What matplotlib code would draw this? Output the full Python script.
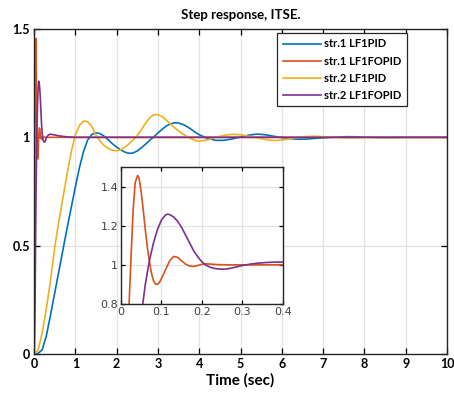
import matplotlib
matplotlib.use("Agg")
import matplotlib.pyplot as plt

# str.1 LF1PID (blue) and str.2 LF1PID (yellow), slow responses
t_pid = [0, 0.1, 0.2, 0.3, 0.4, 0.5, 0.6, 0.7, 0.8, 0.9, 1.0, 1.1, 1.2, 1.3, 1.4,
         1.5, 1.6, 1.7, 1.8, 1.9, 2.0, 2.1, 2.2, 2.3, 2.4, 2.5, 2.6, 2.7, 2.8, 2.9,
         3.0, 3.1, 3.2, 3.3, 3.4, 3.5, 3.6, 3.7, 3.8, 3.9, 4.0, 4.2, 4.4, 4.6, 4.8,
         5.0, 5.2, 5.4, 5.6, 5.8, 6.0, 6.2, 6.4, 6.6, 6.8, 7.0, 7.3, 7.6, 7.9, 8.2,
         8.6, 9.0, 10.0]
y_s1_pid = [0, 0.003, 0.02, 0.085, 0.18, 0.28, 0.38, 0.48, 0.58, 0.675, 0.77, 0.86,
            0.935, 0.988, 1.013, 1.021, 1.017, 1.005, 0.988, 0.97, 0.955, 0.942,
            0.932, 0.926, 0.928, 0.937, 0.952, 0.968, 0.986, 1.002, 1.02, 1.037,
            1.052, 1.062, 1.067, 1.066, 1.06, 1.05, 1.038, 1.024, 1.012, 0.995,
            0.986, 0.986, 0.993, 1.001, 1.01, 1.015, 1.012, 1.005, 0.999, 0.994,
            0.991, 0.992, 0.995, 0.998, 1.001, 1.003, 1.002, 1.0, 0.999, 1.0, 1.0]
y_s2_pid = [0, 0.018, 0.1, 0.21, 0.34, 0.49, 0.61, 0.72, 0.83, 0.93, 1.012, 1.055,
            1.075, 1.072, 1.05, 1.01, 0.982, 0.962, 0.948, 0.94, 0.938, 0.942,
            0.954, 0.97, 0.988, 1.008, 1.035, 1.065, 1.09, 1.104, 1.105, 1.096,
            1.08, 1.062, 1.045, 1.03, 1.016, 1.004, 0.994, 0.986, 0.982, 0.988,
            1.0, 1.009, 1.014, 1.012, 1.005, 0.998, 0.99, 0.985, 0.987, 0.994,
            1.0, 1.004, 1.005, 1.003, 1.0, 0.998, 0.999, 1.0, 1.0, 1.0, 1.0]

# str.1 LF1FOPID (orange)
t_s1_fo = [0, 0.005, 0.01, 0.015, 0.02, 0.025, 0.03, 0.035, 0.041, 0.045, 0.05,
           0.055, 0.06, 0.065, 0.07, 0.075, 0.08, 0.085, 0.09, 0.095, 0.1, 0.11,
           0.12, 0.13, 0.14, 0.15, 0.16, 0.17, 0.18, 0.19, 0.2, 0.21, 0.22, 0.24,
           0.27, 0.3, 0.35, 0.4, 1.0, 10.0]
y_s1_fo = [0, 0.08, 0.3, 0.55, 0.8, 1.05, 1.28, 1.42, 1.457, 1.44, 1.37, 1.28,
           1.18, 1.09, 1.02, 0.96, 0.92, 0.902, 0.9, 0.91, 0.93, 0.975, 1.02,
           1.043, 1.038, 1.02, 1.003, 0.994, 0.992, 0.997, 1.003, 1.005, 1.004,
           1.001, 1.0, 1.0, 1.0, 1.0, 1.0, 1.0]

# str.2 LF1FOPID (purple)
t_s2_fo = [0, 0.01, 0.02, 0.03, 0.04, 0.05, 0.055, 0.06, 0.065, 0.07, 0.08, 0.09,
           0.1, 0.11, 0.115, 0.12, 0.13, 0.14, 0.15, 0.16, 0.17, 0.18, 0.19, 0.2,
           0.21, 0.22, 0.23, 0.24, 0.25, 0.26, 0.27, 0.28, 0.29, 0.3, 0.32, 0.34,
           0.36, 0.38, 0.4, 0.45, 0.5, 0.6, 0.8, 1.0, 10.0]
y_s2_fo = [0, 0.04, 0.15, 0.33, 0.55, 0.74, 0.82, 0.9, 0.96, 1.02, 1.11, 1.18,
           1.23, 1.255, 1.259, 1.257, 1.245, 1.222, 1.19, 1.15, 1.11, 1.07, 1.04,
           1.015, 0.998, 0.988, 0.982, 0.979, 0.978, 0.979, 0.982, 0.987, 0.992,
           0.997, 1.004, 1.009, 1.012, 1.014, 1.014, 1.013, 1.011, 1.007, 1.002,
           1.0, 1.0]

labels = ["str.1 LF1PID", "str.1 LF1FOPID", "str.2 LF1PID", "str.2 LF1FOPID"]
colors = ["#0072BD", "#D95319", "#EDB120", "#7E2F8E"]
series = [(t_pid, y_s1_pid), (t_s1_fo, y_s1_fo), (t_pid, y_s2_pid), (t_s2_fo, y_s2_fo)]

fig = plt.figure(figsize=(4.54, 3.97), dpi=100)
ax = fig.add_axes([0.0749, 0.1083, 0.9097, 0.8187])
for (t, y), c, lab in zip(series, colors, labels):
    ax.plot(t, y, color=c, lw=1.2, label=lab)

ax.set_xlim(0, 10)
ax.set_ylim(0, 1.5)
ax.set_xticks(range(0, 11))
ax.set_yticks([0, 0.5, 1, 1.5])
ax.set_yticklabels(["0", "0.5", "1", "1.5"])
ax.grid(True, color="#e3e3e3", lw=0.9)
ax.set_axisbelow(True)
ax.tick_params(direction="in", top=True, right=True, length=4, width=0.9, pad=3)
for lbl in ax.get_xticklabels() + ax.get_yticklabels():
    lbl.set_fontfamily("Lato")
    lbl.set_fontweight("bold")
    lbl.set_fontsize(9)
for s in ax.spines.values():
    s.set_linewidth(1.0)
    s.set_color("#262626")
ax.set_title("Step response, ITSE.", family="Lato", weight="bold", fontsize=9.5, pad=7)
ax.set_xlabel("Time (sec)", family="Lato", weight="bold", fontsize=11, labelpad=2)

leg = ax.legend(loc="upper right", bbox_to_anchor=(0.903, 0.988), borderaxespad=0,
                fancybox=False, framealpha=1, edgecolor="#262626",
                handlelength=3.4, handletextpad=0.3, borderpad=0.5, labelspacing=0.55,
                prop={"family": "Lato", "weight": "bold", "size": 8})
leg.get_frame().set_linewidth(0.9)

# inset zoom on the fractional-order responses
ins = fig.add_axes([0.2665, 0.2343, 0.3568, 0.345])
ins.plot(t_s1_fo, y_s1_fo, color=colors[1], lw=1.2)
ins.plot(t_s2_fo, y_s2_fo, color=colors[3], lw=1.2)
ins.set_xlim(0, 0.4)
ins.set_ylim(0.8, 1.5)
ins.set_xticks([0, 0.1, 0.2, 0.3, 0.4])
ins.set_xticklabels(["0", "0.1", "0.2", "0.3", "0.4"])
ins.set_yticks([0.8, 1.0, 1.2, 1.4])
ins.set_yticklabels(["0.8", "1", "1.2", "1.4"])
ins.grid(True, color="#e3e3e3", lw=0.9)
ins.set_axisbelow(True)
ins.tick_params(direction="in", top=True, right=True, length=3, width=0.9,
                labelsize=8, labelcolor="#404040", pad=2)
for s in ins.spines.values():
    s.set_linewidth(1.0)
    s.set_color("#262626")

fig.savefig("out.png", dpi=100)
